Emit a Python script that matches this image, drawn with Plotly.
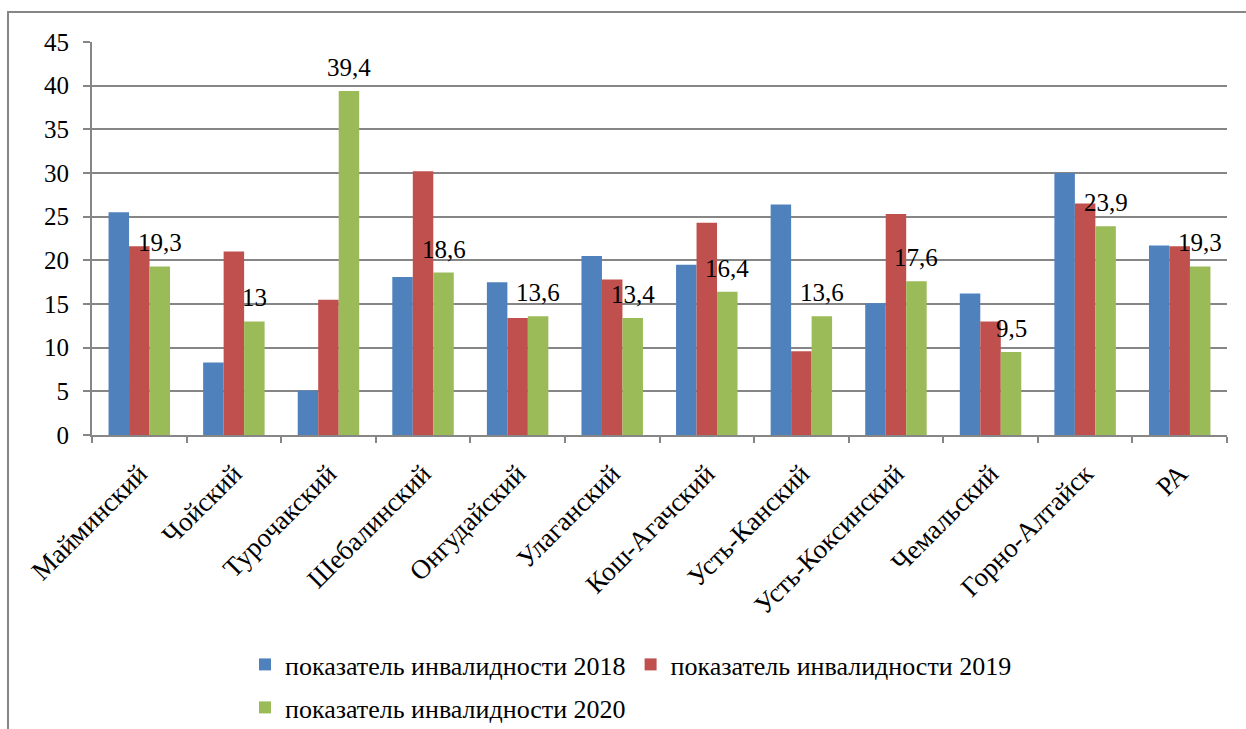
import plotly.graph_objects as go

districts = ["Майминский", "Чойский", "Турочакский", "Шебалинский", "Онгудайский",
             "Улаганский", "Кош-Агачский", "Усть-Канский", "Усть-Коксинский",
             "Чемальский", "Горно-Алтайск", "РА"]
rate_2018 = [25.5, 8.3, 5.1, 18.1, 17.5, 20.5, 19.5, 26.4, 15.1, 16.2, 30.0, 21.7]
rate_2019 = [21.6, 21.0, 15.5, 30.2, 13.4, 17.8, 24.3, 9.6, 25.3, 13.0, 26.5, 21.6]
rate_2020 = [19.3, 13.0, 39.4, 18.6, 13.6, 13.4, 16.4, 13.6, 17.6, 9.5, 23.9, 19.3]
series_names = ["показатель инвалидности 2018",
                "показатель инвалидности 2019",
                "показатель инвалидности 2020"]
y_ticks = [0, 5, 10, 15, 20, 25, 30, 35, 40, 45]

colors = ["#4F81BD", "#C0504D", "#9BBB59"]
FONT = "Liberation Serif"

W, H = 1246, 729
ML, MR, MT, MB = 92, 19, 42, 294
plot_w = W - ML - MR
plot_h = H - MT - MB
BARGAP = 0.35
bar_px = plot_w / len(districts) * (1 - BARGAP) / 3


def fmt(v):
    s = ("%.1f" % v).rstrip("0").rstrip(".")
    return s.replace(".", ",")


fig = go.Figure()
for i, (name, vals) in enumerate(zip(series_names, [rate_2018, rate_2019, rate_2020])):
    fig.add_trace(go.Bar(
        x=districts, y=vals, name=name,
        marker=dict(color=colors[i], line=dict(width=0)),
        legend="legend" if i < 2 else "legend2",
    ))

# value labels above the 2020 bars
for d, v in zip(districts, rate_2020):
    fig.add_annotation(
        x=d, y=v, text=fmt(v), showarrow=False,
        xanchor="center", yanchor="bottom",
        xshift=bar_px, yshift=8,
        font=dict(family=FONT, size=25, color="#000000"),
    )


def px_x(px):
    return (px - ML) / plot_w


def px_y(py):
    return (H - MB - py) / plot_h


# outer frame of the chart area
fig.add_shape(type="rect", xref="paper", yref="paper",
              x0=px_x(8), x1=px_x(1252), y0=px_y(740), y1=px_y(12),
              line=dict(color="#868686", width=2), fillcolor="rgba(0,0,0,0)",
              layer="below")

fig.update_layout(
    width=W, height=H,
    margin=dict(l=ML, r=MR, t=MT, b=MB, autoexpand=False),
    paper_bgcolor="white", plot_bgcolor="white",
    barmode="group", bargap=BARGAP, bargroupgap=0,
    font=dict(family=FONT, color="#000000"),
    xaxis=dict(
        tickangle=-45, tickfont=dict(family=FONT, size=27),
        showline=True, linecolor="#868686", linewidth=2,
        ticks="outside", ticklen=6, tickcolor="#868686", tickwidth=2,
        tickson="boundaries", showgrid=False, ticklabelstandoff=10,
        automargin=False,
    ),
    yaxis=dict(
        range=[0, 45], tickvals=y_ticks, ticktext=[str(t) for t in y_ticks],
        tickfont=dict(family=FONT, size=25),
        showline=True, linecolor="#868686", linewidth=2,
        ticks="outside", ticklen=7, tickcolor="#868686", tickwidth=2,
        showgrid=True, gridcolor="#868686", gridwidth=2,
        zeroline=False, ticklabelstandoff=9, automargin=False,
    ),
    legend=dict(
        orientation="h", xref="container", yref="container",
        x=245 / W, y=1 - 641 / H, xanchor="left", yanchor="top",
        font=dict(family=FONT, size=26), bgcolor="rgba(0,0,0,0)",
        itemclick=False,
    ),
    legend2=dict(
        orientation="h", xref="container", yref="container",
        x=245 / W, y=1 - 684 / H, xanchor="left", yanchor="top",
        font=dict(family=FONT, size=26), bgcolor="rgba(0,0,0,0)",
        itemclick=False,
    ),
    showlegend=True,
)

fig.write_html("out.html")
